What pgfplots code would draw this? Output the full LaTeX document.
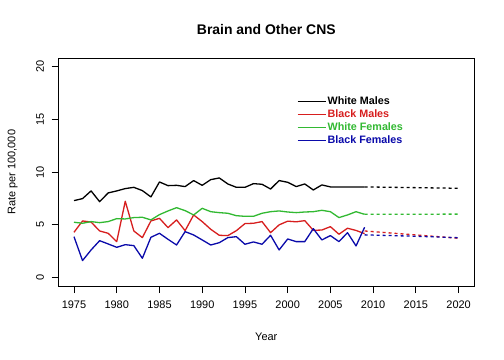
\documentclass[border=0pt]{standalone}
\usepackage{fontspec}
\setmainfont{Liberation Sans}
\usepackage{pgfplots}
\pgfplotsset{compat=1.18}
\definecolor{wm}{RGB}{0,0,0}
\definecolor{bm}{RGB}{215,30,30}
\definecolor{wf}{RGB}{50,185,50}
\definecolor{bf}{RGB}{10,10,170}
\begin{document}
\begin{tikzpicture}
\fill[white,use as bounding box] (-58.6bp,-74bp) rectangle (445.4bp,286bp);
\begin{axis}[
  at={(0,0)}, anchor=south west, scale only axis,
  width=415.4bp, height=227.7bp,
  xmin=1973.2, xmax=2021.8, ymin=-0.8, ymax=20.8,
  xtick={1975,1980,...,2020}, ytick={0,5,...,20},
  tick pos=left, tick align=outside, major tick length=7bp,
  /pgf/number format/assume math mode=true,
  /pgf/number format/1000 sep={},
  ticklabel style={font=\fontsize{11}{13}\selectfont},
  yticklabel style={rotate=90, anchor=south},
  xticklabel shift=4bp, yticklabel shift=4bp,
  axis line style={line width=0.8bp},
  tick style={line width=0.8bp, black},
  xlabel={Year}, ylabel={Rate per 100,000},
  label style={font=\fontsize{11}{13}\selectfont},
  xlabel style={at={(axis description cs:0.5,0)}, anchor=center, yshift=-51bp},
  ylabel style={at={(axis description cs:0,0.5)}, anchor=center, yshift=46bp},
  title={Brain and Other CNS},
  title style={at={(axis description cs:0.5,1)}, anchor=center, yshift=23bp, font=\bfseries\fontsize{14}{16}\selectfont},
  legend style={at={(axis description cs:0.567,0.845)}, anchor=north west, draw=none, fill=none,
    font=\bfseries\fontsize{10.8}{13}\selectfont, row sep=1bp,
    nodes={inner sep=1bp, text height=8bp, text depth=2bp}},
  legend cell align=left,
  legend image code/.code={\draw[#1, solid, line width=1.3bp] (0bp,0bp) -- (20bp,0bp); \path (0bp,0bp) -- (28bp,0bp);},
  every axis plot/.append style={line width=1.3bp, line join=round},
]
\addplot[wm] coordinates {
(1975,7.30)(1976,7.49)(1977,8.22)(1978,7.20)(1979,8.03)(1980,8.22)(1981,8.44)(1982,8.56)(1983,8.25)(1984,7.65)
(1985,9.07)(1986,8.72)(1987,8.75)(1988,8.63)(1989,9.20)(1990,8.75)(1991,9.29)(1992,9.45)(1993,8.88)(1994,8.56)
(1995,8.56)(1996,8.91)(1997,8.85)(1998,8.40)(1999,9.20)(2000,9.04)(2001,8.63)(2002,8.88)(2003,8.31)(2004,8.79)
(2005,8.60)(2006,8.60)(2007,8.60)(2008,8.60)(2009,8.60)};
\addlegendentry{\textcolor{wm}{White Males}}
\addplot[bm] coordinates {
(1975,4.29)(1976,5.37)(1977,5.27)(1978,4.42)(1979,4.20)(1980,3.41)(1981,7.24)(1982,4.42)(1983,3.79)(1984,5.37)
(1985,5.62)(1986,4.74)(1987,5.47)(1988,4.45)(1989,5.94)(1990,5.31)(1991,4.58)(1992,4.01)(1993,3.98)(1994,4.45)
(1995,5.12)(1996,5.15)(1997,5.31)(1998,4.26)(1999,5.00)(2000,5.35)(2001,5.29)(2002,5.40)(2003,4.48)(2004,4.51)
(2005,4.83)(2006,4.11)(2007,4.68)(2008,4.47)(2009,4.17)};
\addlegendentry{\textcolor{bm}{Black Males}}
\addplot[wf] coordinates {
(1975,5.25)(1976,5.15)(1977,5.31)(1978,5.21)(1979,5.31)(1980,5.59)(1981,5.56)(1982,5.69)(1983,5.72)(1984,5.47)
(1985,5.97)(1986,6.32)(1987,6.63)(1988,6.35)(1989,5.94)(1990,6.57)(1991,6.25)(1992,6.16)(1993,6.10)(1994,5.87)
(1995,5.81)(1996,5.81)(1997,6.10)(1998,6.25)(1999,6.32)(2000,6.22)(2001,6.16)(2002,6.22)(2003,6.25)(2004,6.38)
(2005,6.25)(2006,5.69)(2007,5.94)(2008,6.25)(2009,6.00)};
\addlegendentry{\textcolor{wf}{White Females}}
\addplot[bf] coordinates {
(1975,3.88)(1976,1.61)(1977,2.62)(1978,3.50)(1979,3.19)(1980,2.87)(1981,3.12)(1982,3.03)(1983,1.83)(1984,3.82)
(1985,4.20)(1986,3.63)(1987,3.09)(1988,4.36)(1989,4.04)(1990,3.57)(1991,3.09)(1992,3.31)(1993,3.79)(1994,3.88)
(1995,3.16)(1996,3.38)(1997,3.16)(1998,4.01)(1999,2.62)(2000,3.66)(2001,3.41)(2002,3.41)(2003,4.64)(2004,3.57)
(2005,3.98)(2006,3.41)(2007,4.26)(2008,3.00)(2009,4.77)};
\addlegendentry{\textcolor{bf}{Black Females}}
\addplot[wm, dash pattern=on 3bp off 3bp, forget plot] coordinates {(2009,8.60)(2020,8.47)};
\addplot[wf, dash pattern=on 3bp off 3bp, forget plot] coordinates {(2009,6.00)(2020,6.02)};
\addplot[bm, dash pattern=on 3bp off 3bp, forget plot] coordinates {(2009,4.42)(2020,3.73)};
\addplot[bf, dash pattern=on 3bp off 3bp, forget plot] coordinates {(2009,4.05)(2015,3.92)(2020,3.78)};
\end{axis}
\end{tikzpicture}
\end{document}
